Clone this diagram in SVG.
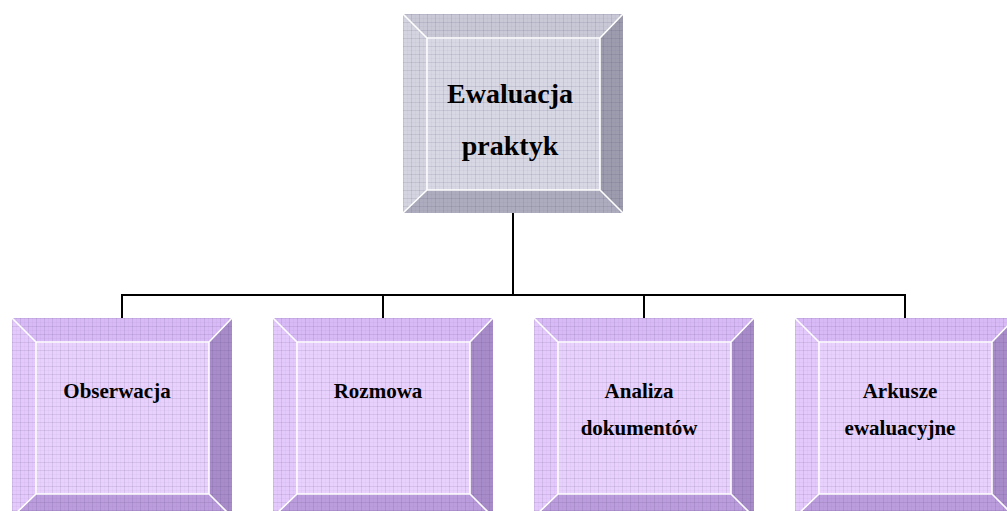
<svg xmlns="http://www.w3.org/2000/svg" width="1007" height="511" viewBox="0 0 1007 511">
<style>
.grey{--bt:#c8c8d6;--bl:#d4d4e0;--br:#9c9cae;--bb:#acacbe;--face:#d8d8e4}
.purple{--bt:#d8baf6;--bl:#e4cafc;--br:#a88cca;--bb:#bb9cdc;--face:#e8d2fd}
.bt{fill:var(--bt)}.bl{fill:var(--bl)}.br{fill:var(--br)}.bb{fill:var(--bb)}.face{fill:var(--face)}
.sep{fill:none;stroke:#ffffff;stroke-width:1.6}
.grid{fill:url(#grid)}
.t{font-family:"Liberation Serif","Times New Roman",serif;font-weight:bold;fill:#000;text-anchor:middle}
.t1{font-size:28px}.t2{font-size:21px}
.conn{fill:none;stroke:#000;stroke-width:2}
</style>
<defs>
<pattern id="grid" width="8" height="8" patternUnits="userSpaceOnUse">
<path d="M0 0.5H8M0.5 0V8" stroke="#3a2a5a" stroke-opacity="0.11" stroke-width="1"/>
<path d="M0 4.5H8M4.5 0V8" stroke="#3a2a5a" stroke-opacity="0.03" stroke-width="1"/>
</pattern>
<g id="shape">
<polygon class="bt" points="0,0 220,0 197,24 24,24"/>
<polygon class="bl" points="0,0 24,24 24,176 0,199"/>
<polygon class="br" points="220,0 220,199 197,176 197,24"/>
<polygon class="bb" points="0,199 24,176 197,176 220,199"/>
<rect class="face" x="24" y="24" width="173" height="152"/>
<rect class="grid" x="0" y="0" width="220" height="199"/>
<path class="sep" d="M0,0 L24,24 M220,0 L197,24 M0,199 L24,176 M220,199 L197,176 M24,24 H197 V176 H24 Z"/>
</g>
</defs>
<g id="connectors">
<path class="conn" d="M513,213 V295 M122,295 H905 M122,294 V318 M383,295 V318 M644,295 V318 M905,294 V318"/>
</g>
<g id="node-ewaluacja" class="grey" transform="translate(403,14)">
<use href="#shape"/>
<text class="t t1" x="107" y="89">Ewaluacja</text>
<text class="t t1" x="107" y="141">praktyk</text>
</g>
<g id="node-obserwacja" class="purple" transform="translate(12,318)">
<use href="#shape"/>
<text class="t t2" x="105" y="80">Obserwacja</text>
</g>
<g id="node-rozmowa" class="purple" transform="translate(273,318)">
<use href="#shape"/>
<text class="t t2" x="105" y="80">Rozmowa</text>
</g>
<g id="node-analiza" class="purple" transform="translate(534,318)">
<use href="#shape"/>
<text class="t t2" x="105" y="80">Analiza</text>
<text class="t t2" x="105" y="117">dokumentów</text>
</g>
<g id="node-arkusze" class="purple" transform="translate(795,318)">
<use href="#shape"/>
<text class="t t2" x="105" y="80">Arkusze</text>
<text class="t t2" x="105" y="117">ewaluacyjne</text>
</g>
</svg>
